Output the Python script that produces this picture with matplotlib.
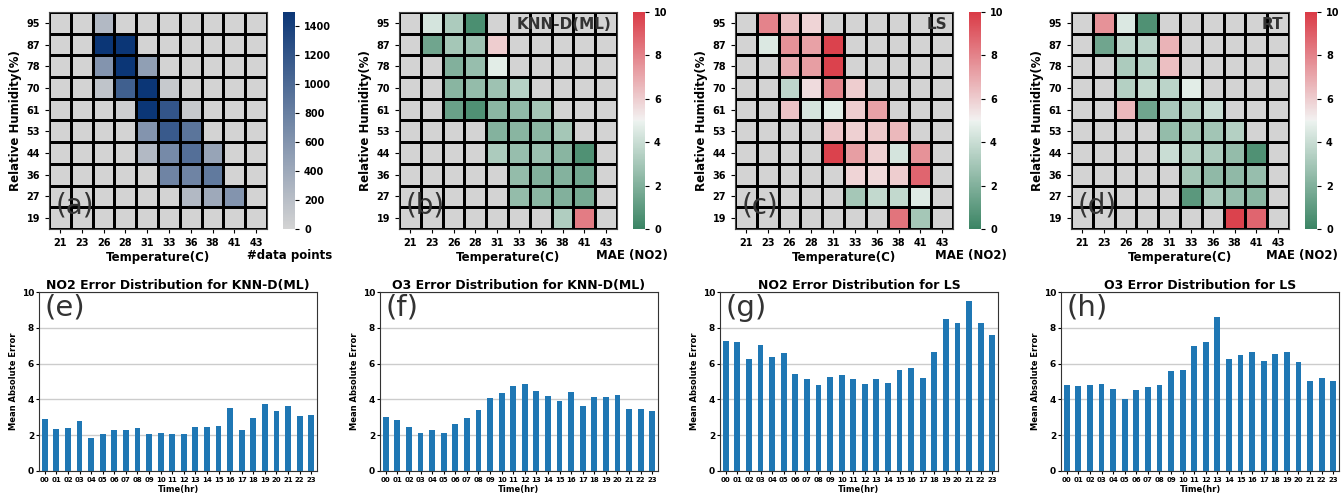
import numpy as np
import matplotlib
matplotlib.use("Agg")
import matplotlib.pyplot as plt
from matplotlib.colors import LinearSegmentedColormap, ListedColormap
import seaborn as sns

plt.rcParams['font.family'] = ['DejaVu Sans']
plt.rcParams['font.weight'] = 'bold'

N = np.nan
humidity = ['95', '87', '78', '70', '61', '53', '44', '36', '27', '19']
temperature = ['21', '23', '26', '28', '31', '33', '36', '38', '41', '43']

# (a) number of data points per cell
counts = [
    [N, N, 250, N, N, N, N, N, N, N],
    [N, N, 1500, 1500, N, N, N, N, N, N],
    [N, N, 600, 1500, 500, N, N, N, N, N],
    [N, N, 150, 1100, 1500, 100, N, N, N, N],
    [N, N, N, 50, 1500, 1200, 100, N, N, N],
    [N, N, N, N, 600, 1150, 900, N, N, N],
    [N, N, N, N, 250, 700, 950, 450, N, N],
    [N, N, N, N, N, 750, 750, 850, N, N],
    [N, N, N, N, N, N, 250, 400, 600, N],
    [N, N, N, N, N, N, N, N, N, N],
]
# (b) KNN-D(ML) NO2 MAE
mae_knn = [
    [N, 4.3, 3.2, 0.5, N, N, N, N, N, N],
    [N, 1.5, 3.0, 2.8, 6.0, N, N, N, N, N],
    [N, N, 2.0, 2.6, 4.7, N, N, N, N, N],
    [N, N, 2.2, 2.5, 2.8, 3.5, N, N, N, N],
    [N, N, 1.3, 0.6, 2.3, 2.4, 3.0, N, N, N],
    [N, N, N, N, 2.1, 2.2, 2.3, 3.0, N, N],
    [N, N, N, N, 3.2, 2.6, 2.7, 2.2, 0.6, N],
    [N, N, N, N, N, 2.5, 2.0, 2.1, 1.6, N],
    [N, N, N, N, N, 2.5, 2.3, 2.0, 1.7, N],
    [N, N, N, N, N, N, N, 3.3, 8.2, N],
]
# (c) LS NO2 MAE
mae_ls = [
    [N, 8.0, 6.4, 5.8, N, N, N, N, N, N],
    [N, 4.5, 7.6, 7.2, 9.8, N, N, N, N, N],
    [N, N, 6.9, 7.3, 9.8, N, N, N, N, N],
    [N, N, 3.7, 5.6, 8.0, 6.0, N, N, N, N],
    [N, N, 6.3, 4.3, 4.7, 6.0, 7.2, N, N, N],
    [N, N, N, N, 6.2, 5.9, 6.1, 6.6, N, N],
    [N, N, N, N, 9.8, 7.3, 5.9, 4.3, 7.6, N],
    [N, N, N, N, N, 5.8, 5.7, 6.0, 8.8, N],
    [N, N, N, N, N, 3.0, 3.8, 3.8, 4.6, N],
    [N, N, N, N, N, N, N, 8.4, 3.0, N],
]
# (d) RT NO2 MAE
mae_rt = [
    [N, 7.6, 4.5, 0.6, N, N, N, N, N, N],
    [N, 1.5, 3.7, 3.6, 6.7, N, N, N, N, N],
    [N, N, 3.2, 3.5, 6.4, N, N, N, N, N],
    [N, N, 3.4, 3.8, 3.6, 4.7, N, N, N, N],
    [N, N, 6.6, 1.5, 3.1, 3.4, 4.0, N, N, N],
    [N, N, N, N, 2.5, 3.0, 2.9, 3.4, N, N],
    [N, N, N, N, 4.0, 3.4, 3.2, 2.5, 0.6, N],
    [N, N, N, N, N, 3.0, 2.4, 2.4, 2.6, N],
    [N, N, N, N, N, 0.9, 3.1, 2.6, 2.3, N],
    [N, N, N, N, N, N, N, 9.8, 8.8, N],
]

hours = ['%02d' % h for h in range(24)]
no2_knn = [2.91, 2.36, 2.41, 2.80, 1.86, 2.08, 2.30, 2.30, 2.41, 2.08, 2.13, 2.08,
           2.08, 2.47, 2.47, 2.52, 3.53, 2.30, 2.97, 3.75, 3.36, 3.64, 3.08, 3.14]
o3_knn = [3.02, 2.86, 2.47, 2.13, 2.30, 2.13, 2.63, 2.97, 3.41, 4.08, 4.36, 4.75,
          4.86, 4.47, 4.19, 3.91, 4.42, 3.64, 4.14, 4.14, 4.25, 3.47, 3.47, 3.36]
no2_ls = [7.25, 7.20, 6.25, 7.03, 6.36, 6.59, 5.42, 5.14, 4.81, 5.25, 5.36, 5.14,
          4.86, 5.14, 4.92, 5.64, 5.75, 5.19, 6.64, 8.48, 8.26, 9.48, 8.26, 7.59]
o3_ls = [4.81, 4.75, 4.81, 4.86, 4.58, 4.03, 4.53, 4.69, 4.81, 5.58, 5.64, 6.98,
         7.20, 8.59, 6.25, 6.47, 6.64, 6.14, 6.53, 6.64, 6.09, 5.03, 5.19, 5.03]

W, H = 1341, 495
fig = plt.figure(figsize=(W / 100, H / 100), dpi=100)

def fx(px):
    return px / W

def fy(px):
    return 1 - px / H

GRAY = '#d3d3d3'
blue_cmap = LinearSegmentedColormap.from_list('gb', [GRAY, '#0b3676'])
div_cmap = sns.diverging_palette(150, 10, as_cmap=True)

heat_specs = [
    (49, 283, 290, counts, blue_cmap, 1500, np.arange(0, 1401, 200), '#data points', '(a)', None),
    (399, 633, 632, mae_knn, div_cmap, 10, np.arange(0, 11, 2), 'MAE (NO2)', '(b)', 'KNN-D(ML)'),
    (735, 969, 971, mae_ls, div_cmap, 10, np.arange(0, 11, 2), 'MAE (NO2)', '(c)', 'LS'),
    (1071, 1305, 1302, mae_rt, div_cmap, 10, np.arange(0, 11, 2), 'MAE (NO2)', '(d)', 'RT'),
]

top, bot = 12, 229
for left, cleft, lab_x, data, cmap, vmax, cticks, clabel, tag, name in heat_specs:
    ax = fig.add_axes([fx(left), fy(bot), fx(218), (bot - top) / H])
    arr = np.ma.masked_invalid(np.array(data, dtype=float))
    nr, nc = arr.shape
    ax.pcolormesh(np.zeros((nr, nc)), cmap=ListedColormap([GRAY]),
                  edgecolors='black', linewidth=0.8)
    mesh = ax.pcolormesh(arr, cmap=cmap, vmin=0, vmax=vmax,
                         edgecolors='black', linewidth=0.8)
    ax.set_xlim(0, nc)
    ax.set_ylim(nr, 0)
    ax.set_xticks(np.arange(nc) + 0.5)
    ax.set_xticklabels(temperature, fontsize=7, fontweight='bold')
    ax.set_yticks(np.arange(nr) + 0.5)
    ax.set_yticklabels(humidity, fontsize=7, fontweight='bold')
    ax.tick_params(length=3, width=0.8)
    for s in ax.spines.values():
        s.set_color('#444444')
    ax.set_xlabel('Temperature(C)', fontsize=8.5, fontweight='bold', labelpad=2)
    ax.set_ylabel('Relative Humidity(%)', fontsize=8.5, fontweight='bold', labelpad=3)
    ax.text(0.03, 0.045, tag, transform=ax.transAxes, fontsize=20,
            fontweight='normal', color='#333333', ha='left', va='bottom')
    if name:
        ax.text(0.975, 0.975, name, transform=ax.transAxes, fontsize=11,
                fontweight='bold', color='#333333', ha='right', va='top')
    cax = fig.add_axes([fx(cleft), fy(bot), fx(12), (bot - top) / H])
    cb = fig.colorbar(mesh, cax=cax)
    cb.outline.set_visible(False)
    cb.set_ticks(cticks)
    cb.ax.tick_params(labelsize=7, length=3, width=0.8)
    for t in cb.ax.get_yticklabels():
        t.set_fontweight('bold')
    fig.text(fx(lab_x), fy(256), clabel, fontsize=8.5, fontweight='bold',
             ha='center', va='center')

bar_specs = [
    (39, no2_knn, 'NO2 Error Distribution for KNN-D(ML)', '(e)'),
    (380, o3_knn, 'O3 Error Distribution for KNN-D(ML)', '(f)'),
    (720, no2_ls, 'NO2 Error Distribution for LS', '(g)'),
    (1061, o3_ls, 'O3 Error Distribution for LS', '(h)'),
]
btop, bbot = 292, 471
for left, vals, title, tag in bar_specs:
    ax = fig.add_axes([fx(left), fy(bbot), fx(278), (bbot - btop) / H])
    x = np.arange(len(hours))
    ax.bar(x, vals, width=0.5, color='#1f77b4', zorder=3)
    ax.set_xlim(-0.5, len(hours) - 0.5)
    ax.set_ylim(0, 10)
    ax.set_yticks([0, 2, 4, 6, 8, 10])
    ax.set_xticks(x)
    ax.set_xticklabels(hours, fontsize=5, fontweight='bold')
    ax.tick_params(axis='y', labelsize=6.5, length=2, width=0.8, pad=1.5)
    ax.tick_params(axis='x', length=2, width=0.8, pad=2)
    for t in ax.get_yticklabels():
        t.set_fontweight('bold')
    ax.grid(axis='y', color='#cccccc', linewidth=1.0, zorder=0)
    for s in ax.spines.values():
        s.set_color('#333333')
    ax.set_title(title, fontsize=9, fontweight='bold', pad=2)
    ax.set_xlabel('Time(hr)', fontsize=6, fontweight='bold', labelpad=2)
    ax.set_ylabel('Mean Absolute Error', fontsize=6, fontweight='bold', labelpad=2.5)
    ax.text(0.02, 0.99, tag, transform=ax.transAxes, fontsize=21,
            fontweight='normal', color='#333333', ha='left', va='top')

fig.savefig('out.png', dpi=100)
